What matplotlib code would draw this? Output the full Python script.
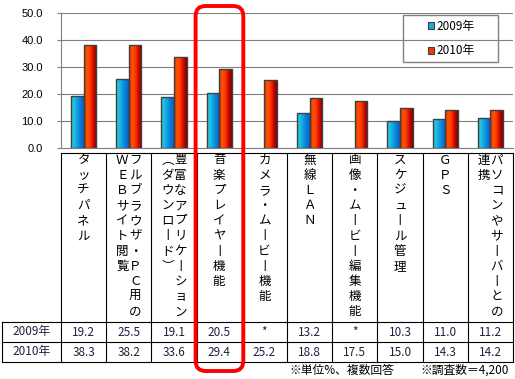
import matplotlib.pyplot as plt
import numpy as np
from matplotlib.colors import LinearSegmentedColormap
from matplotlib.patches import Rectangle, FancyBboxPatch, Patch

# data
categories = [
    ["タッチパネル"],
    ["フルブラウザ・ＰＣ用の", "ＷＥＢサイト閲覧"],
    ["豊富なアプリケーション", "（ダウンロード）"],
    ["音楽プレイヤー機能"],
    ["カメラ・ムービー機能"],
    ["無線ＬＡＮ"],
    ["画像・ムービー編集機能"],
    ["スケジュール管理"],
    ["ＧＰＳ"],
    ["パソコンやサーバーとの", "連携"],
]
series_names = ["2009年", "2010年"]
v2009 = [19.2, 25.5, 19.1, 20.5, None, 13.2, None, 10.3, 11.0, 11.2]
v2010 = [38.3, 38.2, 33.6, 29.4, 25.2, 18.8, 17.5, 15.0, 14.3, 14.2]
yticks = [0, 10, 20, 30, 40, 50]
notes = ["※単位%、複数回答", "※調査数＝4,200"]
highlight = 3

JP = ["Noto Sans CJK JP", "DejaVu Sans"]
W, H = 515, 379

# pixel layout
left, right, top, zero = 61, 513, 13, 148.5
tab_top, row1, row2, row3 = 153, 322, 342, 362
colw = (right - left) / len(categories)

fig = plt.figure(figsize=(W / 100, H / 100), dpi=100)
ax = fig.add_axes([left / W, 1 - zero / H, (right - left) / W, (zero - top) / H])

x = np.arange(len(categories))
bw = 0.28
h09 = [np.nan if v is None else v for v in v2009]

blue = LinearSegmentedColormap.from_list("b", ["#2ed6d2", "#18b4e2", "#0a84dc", "#0660c8"])
red = LinearSegmentedColormap.from_list("r", ["#e42a00", "#ff5600", "#ff3400", "#c40800", "#7a0000"])

b1 = ax.bar(x - bw / 2, h09, bw, facecolor="none", edgecolor="#404040", lw=1, zorder=3)
b2 = ax.bar(x + bw / 2, v2010, bw, facecolor="none", edgecolor="#404040", lw=1, zorder=3)

grad = np.linspace(0, 1, 64).reshape(1, -1)
for bars, cm in ((b1, blue), (b2, red)):
    for bar in bars:
        hgt = bar.get_height()
        if np.isnan(hgt):
            continue
        x0 = bar.get_x()
        im = ax.imshow(grad, cmap=cm, extent=[x0, x0 + bar.get_width(), 0, hgt],
                       aspect="auto", interpolation="bilinear", zorder=2)
        im.set_clip_path(bar)

ax.set_xlim(-0.5, len(categories) - 0.5)
ax.set_ylim(0, 50)
ax.set_yticks(yticks)
ax.set_yticklabels([f"{v:.1f}" for v in yticks], fontsize=8, family="Liberation Sans")
ax.set_xticks([])
ax.tick_params(axis="y", length=3, color="#808080", width=0.8, pad=10)
ax.grid(axis="y", color="#808080", lw=0.8)
ax.set_axisbelow(True)
for s in ("top", "right"):
    ax.spines[s].set_visible(False)
for s in ("left", "bottom"):
    ax.spines[s].set_color("#808080")
    ax.spines[s].set_linewidth(0.8)

# overlay in pixel coordinates for the table, legend box and highlight
ov = fig.add_axes([0, 0, 1, 1], facecolor="none")
ov.set_xlim(0, W)
ov.set_ylim(H, 0)
ov.axis("off")

lk = dict(color="black", lw=0.8)
for k in range(len(categories) + 1):
    xx = left + k * colw
    ov.plot([xx, xx], [tab_top, row3], **lk)
ov.plot([2, 2], [row1, row3], **lk)
ov.plot([left, right], [tab_top, tab_top], **lk)
for yy in (row1, row2, row3):
    ov.plot([2, right], [yy, yy], **lk)

vert = {"ー": "丨", "（": "︵", "）": "︶"}
step = 15.2
for i, cols in enumerate(categories):
    cx = left + (i + 0.5) * colw
    offs = [0] if len(cols) == 1 else [6.5, -6.5]
    for col, dx in zip(cols, offs):
        for j, ch in enumerate(col):
            ov.text(cx + dx, 160 + j * step, vert.get(ch, ch), ha="center", va="center",
                    fontsize=9, family=JP, color="black")

tk = dict(ha="center", va="center", fontsize=8.5, family=JP, color="#202040")
for r, (name, vals) in enumerate(zip(series_names, (v2009, v2010))):
    yy = (row1 + row2) / 2 + r * (row2 - row1)
    ov.text((2 + left) / 2, yy, name, **tk)
    for i, v in enumerate(vals):
        ov.text(left + (i + 0.5) * colw, yy, "*" if v is None else f"{v:.1f}", **tk)

ov.text(342, 370, notes[0], ha="center", va="center", fontsize=8.5, family=JP)
ov.text(509, 370, notes[1], ha="right", va="center", fontsize=8.5, family=JP)

# legend
ov.add_patch(Rectangle((403, 15), 95, 47, fill=False, ec="#808080", lw=1))
handles = [Patch(facecolor="#18a8e0", edgecolor="#404040", lw=0.8),
           Patch(facecolor="#f03a00", edgecolor="#404040", lw=0.8)]
fig.legend(handles, series_names, loc="center", bbox_to_anchor=(451 / W, 1 - 38.5 / H),
           frameon=False, prop={"family": JP, "size": 8.5}, handlelength=0.55,
           handleheight=0.55, handletextpad=0.15, labelspacing=1.0)

# highlight around the music player column
hx0 = left + highlight * colw
ov.add_patch(FancyBboxPatch((hx0 - 1, 6), colw + 2.5, 365, boxstyle="round,pad=0,rounding_size=10",
                            fill=False, ec="#ff0000", lw=2.8, zorder=5))

fig.savefig("out.png", dpi=100)
